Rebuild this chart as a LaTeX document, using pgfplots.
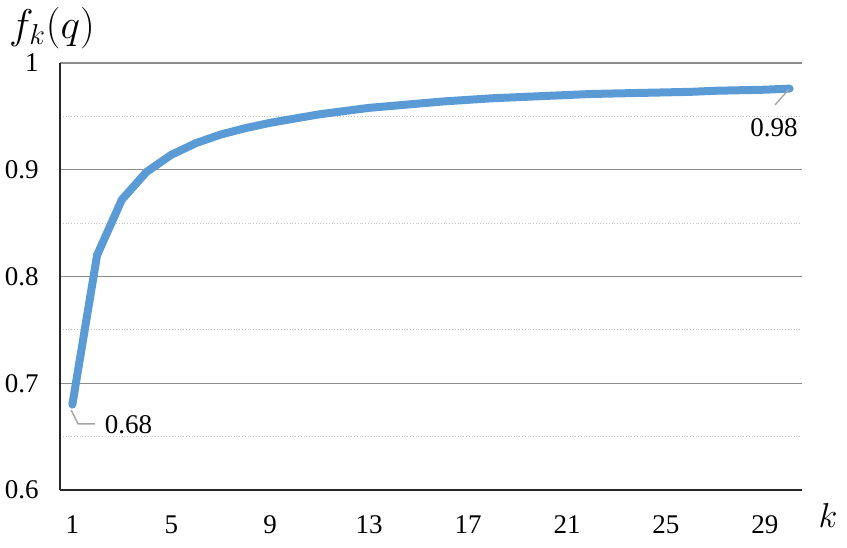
\documentclass[border=0pt]{standalone}
\usepackage{fontspec}
\setmainfont{Liberation Serif}
\usepackage{pgfplots}
\pgfplotsset{compat=1.18}
\definecolor{lineblue}{HTML}{5B9BD5}
\definecolor{gridgray}{HTML}{8C8C8C}
\definecolor{minorgray}{HTML}{C4C4C4}
\definecolor{leadgray}{HTML}{A6A6A6}
\begin{document}
\fontsize{13.5}{15}\selectfont
\begin{tikzpicture}
\path[use as bounding box] (-30pt,-28.5pt) rectangle (393.5pt,245pt);
\begin{axis}[
  at={(0,0)}, anchor=south west,
  scale only axis, width=371pt, height=213.5pt,
  xmin=0.5, xmax=30.5, ymin=0.6, ymax=1,
  axis x line*=bottom, axis y line*=left,
  axis line style={black!85, line width=0.8pt, -},
  xtick={1,5,...,29}, ytick={0.6,0.7,0.8,0.9,1},
  minor ytick={0.65,0.75,0.85,0.95},
  ymajorgrids, yminorgrids,
  major grid style={gridgray, line width=0.6pt},
  minor grid style={minorgray, densely dotted, line width=0.5pt},
  major tick length=0pt, minor tick length=0pt,
  yticklabel style={xshift=-6pt},
  xticklabel style={yshift=-8pt},
  /pgf/number format/assume math mode=true,
  yticklabel style={/pgf/number format/.cd, fixed, precision=1},
  clip=false,
]
\addplot[lineblue, line width=4pt, line join=round, line cap=round] coordinates {
(1,0.680) (2,0.820) (3,0.872) (4,0.898) (5,0.914) (6,0.925) (7,0.933) (8,0.939)
(9,0.944) (10,0.948) (11,0.952) (12,0.955) (13,0.958) (14,0.960) (15,0.962)
(16,0.964) (17,0.9655) (18,0.967) (19,0.968) (20,0.969) (21,0.970) (22,0.971)
(23,0.9715) (24,0.972) (25,0.9725) (26,0.973) (27,0.974) (28,0.9745) (29,0.975) (30,0.976)
};
\draw[leadgray, line width=0.7pt] (axis cs:0.95,0.675) -- (axis cs:1.23,0.662) -- (axis cs:1.92,0.662);
\node[anchor=west, inner sep=0pt] at (axis cs:2.3,0.661) {0.68};
\draw[leadgray, line width=0.7pt] (axis cs:29.41,0.9607) -- (axis cs:29.98,0.9757);
\node[inner sep=0pt] at (axis cs:29.37,0.939) {0.98};
\end{axis}
\node at (-4pt,231pt) {\fontsize{20}{24}\selectfont $f_k(q)$};
\node at (384pt,-12.5pt) {\fontsize{19}{22}\selectfont $k$};
\end{tikzpicture}
\end{document}
